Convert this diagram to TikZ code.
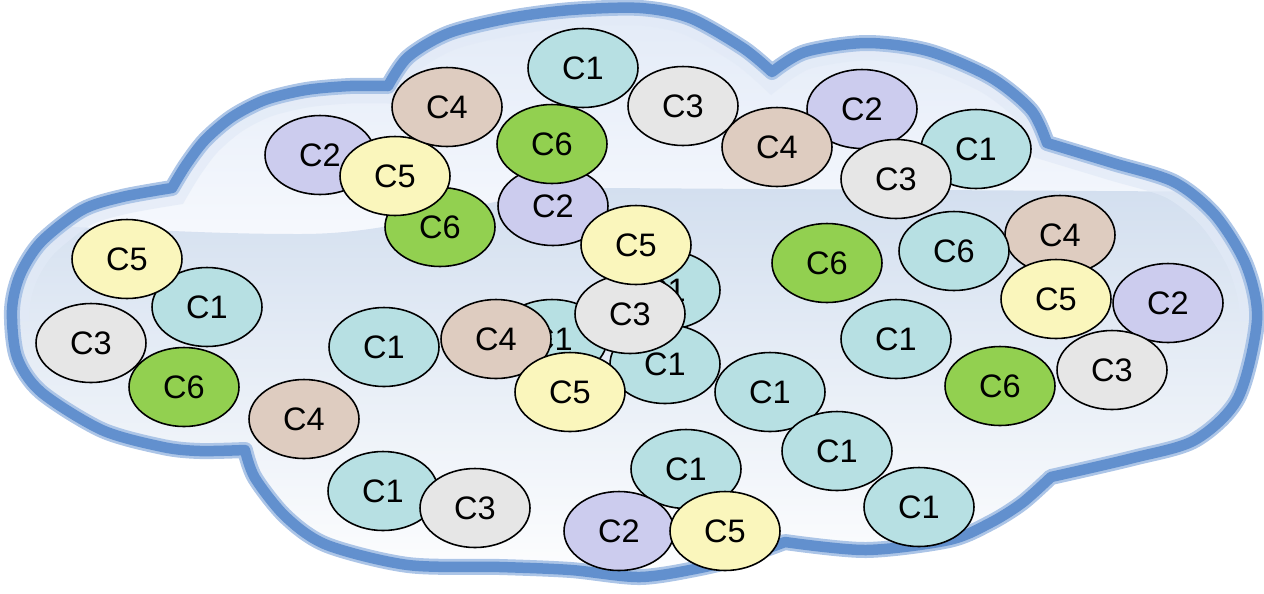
\documentclass[tikz,border=0pt]{standalone}
\usepackage{fontspec}
\setmainfont{Liberation Sans}
\usetikzlibrary{shapes.geometric}

% cell colours
\definecolor{cls1}{RGB}{183,224,227}
\definecolor{cls2}{RGB}{204,204,238}
\definecolor{cls3}{RGB}{230,230,230}
\definecolor{cls4}{RGB}{222,204,192}
\definecolor{cls5}{RGB}{250,246,188}
\definecolor{cls6}{RGB}{146,208,80}
% cloud colours
\definecolor{cloudline}{RGB}{98,144,206}
\definecolor{cloudhalo}{RGB}{172,197,231}
\definecolor{glosstop}{RGB}{226,234,247}
\definecolor{glossmid}{RGB}{248,250,254}
\definecolor{glosslow}{RGB}{211,223,239}

\begin{document}
\begin{tikzpicture}[
    x=0.02cm, y=-0.02cm,
    font=\fontsize{18.5}{21}\selectfont,
    blob/.style={ellipse, draw=black, line width=0.9pt, minimum width=2.2cm,
      minimum height=1.58cm, inner sep=0pt},
  ]
  \useasboundingbox (0,0) rectangle (1264,593);

  \def\cloudpath{
    plot[smooth] coordinates {(245,450) (200,451) (163,447) (102,430) (41,392) (17,357)
      (12,310) (20,275) (41,242) (82,210) (122,197) (172,188)}
    -- plot[smooth] coordinates {(172,188) (186,165) (205,140) (232,117) (265,100) (306,90)
      (350,86) (388,86)}
    -- plot[smooth] coordinates {(388,86) (408,57) (449,33) (510,18) (571,10) (640,8)
      (690,18) (743,48) (772,72)}
    -- plot[smooth] coordinates {(772,72) (805,52) (866,43) (928,51) (990,77) (1031,110)
      (1047,143)}
    -- plot[smooth] coordinates {(1047,143) (1113,163) (1174,182) (1215,215) (1246,265)
      (1257,320) (1238,398) (1195,440) (1133,458) (1051,477)}
    -- plot[smooth] coordinates {(1051,477) (1022,503) (990,523) (949,540) (866,550)
      (785,542)}
    -- plot[smooth] coordinates {(785,542) (743,557) (700,568) (640,577) (571,570)
      (500,567) (408,565) (327,545) (286,517) (255,478) (245,450)}
    -- cycle}

  % --- cloud body with gloss ---
  \begin{scope}
    \clip \cloudpath;
    \shade[top color=glosstop, bottom color=glossmid] (0,0) rectangle (1264,260);
    \shade[top color=glosslow, bottom color=white] (0,226) to[out=0,in=180] (300,234)
      to[out=0,in=182] (600,188) -- (1264,192) -- (1264,593) -- (0,593) -- cycle;
    \begin{scope}
      \clip (0,0) rectangle (1264,320);
      \draw[glosstop, line width=0.7cm, opacity=0.7] \cloudpath;
    \end{scope}
  \end{scope}

  % --- cloud outline ---
  \draw[cloudhalo, line width=0.32cm, line join=round] \cloudpath;
  \draw[cloudline, line width=0.21cm, line join=round] \cloudpath;

  % --- cells (colour class / label / position), back to front ---
  \foreach \n/\k/\t/\x/\y in {
      1/2/2/553/206, 2/3/3/683/106, 3/1/1/583/68, 4/6/6/552/144,
      5/2/2/862/109, 6/4/4/777/147, 7/1/1/976/149, 8/3/3/896/179,
      9/2/2/320/155, 10/6/6/440/227, 11/5/5/395/176, 12/4/4/447/107,
      13/4/4/1060/235, 14/1/6/954/251, 15/6/6/827/263, 16/5/5/1056/299,
      17/2/2/1168/303, 18/3/3/1112/370, 19/6/6/1000/386, 20/1/1/896/339,
      21/1/1/207/307, 22/5/5/127/259, 23/3/3/91/343, 24/6/6/184/387,
      25/4/4/304/419, 26/1/1/384/347, 27/1/1/552/339, 28/4/4/496/339,
      29/1/1/665/290, 30/1/1/665/364, 31/3/3/630/314, 32/5/5/636/245,
      33/5/5/570/392, 34/1/1/770/392, 35/1/1/837/451, 36/1/1/919/507,
      37/1/1/686/469, 38/2/2/619/531, 39/5/5/725/531, 40/1/1/383/491,
      41/3/3/475/508} {
    \node[blob, fill=cls\k] (e\n) at (\x,\y) {C\t};
  }

\end{tikzpicture}
\end{document}
